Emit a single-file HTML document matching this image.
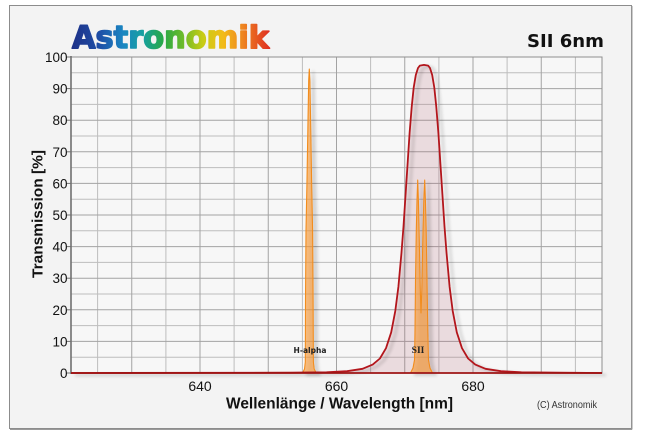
<!DOCTYPE html>
<html><head><meta charset="utf-8"><style>
html,body{margin:0;padding:0;background:#fff;}
svg{display:block;}
</style></head><body>
<svg width="646" height="437" viewBox="0 0 646 437" xmlns="http://www.w3.org/2000/svg">
<defs>
<linearGradient id="logo" x1="71" y1="0" x2="271" y2="0" gradientUnits="userSpaceOnUse">
<stop offset="0" stop-color="#1d2f86"/>
<stop offset="0.14" stop-color="#1e4ea6"/>
<stop offset="0.26" stop-color="#1a86c2"/>
<stop offset="0.36" stop-color="#16a0a0"/>
<stop offset="0.46" stop-color="#27a846"/>
<stop offset="0.56" stop-color="#6cbb2a"/>
<stop offset="0.66" stop-color="#c8cc16"/>
<stop offset="0.76" stop-color="#f2bc18"/>
<stop offset="0.86" stop-color="#ee8420"/>
<stop offset="1" stop-color="#de2a22"/>
</linearGradient>
<filter id="sh" x="-20%" y="-20%" width="140%" height="140%">
<feGaussianBlur in="SourceAlpha" stdDeviation="1.6"/>
<feOffset dx="4" dy="2" result="o"/>
<feComponentTransfer><feFuncA type="linear" slope="0.22"/></feComponentTransfer>
<feMerge><feMergeNode/><feMergeNode in="SourceGraphic"/></feMerge>
</filter>
</defs>

<!-- frame -->
<rect x="9.5" y="5.5" width="622" height="423" fill="#f3f3f3" stroke="#8c8c8c" stroke-width="1"/>
<line x1="632" y1="6" x2="632" y2="429.5" stroke="#9a9a9a" stroke-width="1"/>
<line x1="10" y1="429.5" x2="632" y2="429.5" stroke="#9a9a9a" stroke-width="1"/>

<!-- logo -->
<text x="72" y="48" font-family="'DejaVu Sans','Liberation Sans',sans-serif" font-weight="bold" font-size="31" textLength="197" lengthAdjust="spacingAndGlyphs" fill="url(#logo)" stroke="url(#logo)" stroke-width="1.6" stroke-linejoin="round">Astronomik</text>

<!-- title -->
<text x="527" y="47" font-family="'DejaVu Sans','Liberation Sans',sans-serif" font-weight="bold" font-size="18" textLength="77" lengthAdjust="spacingAndGlyphs" fill="#111">SII 6nm</text>

<!-- plot bg -->
<rect x="71" y="57" width="531" height="316" fill="#f7f7f7"/>

<!-- minor grid -->
<g stroke="#bdbdbd" stroke-width="1">
<line x1="71" x2="602" y1="357.2" y2="357.2"/>
<line x1="71" x2="602" y1="325.6" y2="325.6"/>
<line x1="71" x2="602" y1="294" y2="294"/>
<line x1="71" x2="602" y1="262.4" y2="262.4"/>
<line x1="71" x2="602" y1="230.8" y2="230.8"/>
<line x1="71" x2="602" y1="199.2" y2="199.2"/>
<line x1="71" x2="602" y1="167.6" y2="167.6"/>
<line x1="71" x2="602" y1="136" y2="136"/>
<line x1="71" x2="602" y1="104.4" y2="104.4"/>
<line x1="71" x2="602" y1="72.8" y2="72.8"/>
<line y1="57" y2="373" x1="97.6" x2="97.6"/>
<line y1="57" y2="373" x1="165.9" x2="165.9"/>
<line y1="57" y2="373" x1="234.1" x2="234.1"/>
<line y1="57" y2="373" x1="302.4" x2="302.4"/>
<line y1="57" y2="373" x1="370.6" x2="370.6"/>
<line y1="57" y2="373" x1="438.9" x2="438.9"/>
<line y1="57" y2="373" x1="507.1" x2="507.1"/>
<line y1="57" y2="373" x1="575.4" x2="575.4"/>
</g>
<!-- major grid -->
<g stroke="#a3a3a3" stroke-width="1">
<line x1="71" x2="602" y1="341.4" y2="341.4"/>
<line x1="71" x2="602" y1="309.8" y2="309.8"/>
<line x1="71" x2="602" y1="278.2" y2="278.2"/>
<line x1="71" x2="602" y1="246.6" y2="246.6"/>
<line x1="71" x2="602" y1="215" y2="215"/>
<line x1="71" x2="602" y1="183.4" y2="183.4"/>
<line x1="71" x2="602" y1="151.8" y2="151.8"/>
<line x1="71" x2="602" y1="120.2" y2="120.2"/>
<line x1="71" x2="602" y1="88.6" y2="88.6"/>
<line y1="57" y2="373" x1="131.75" x2="131.75"/>
<line y1="57" y2="373" x1="200" x2="200"/>
<line y1="57" y2="373" x1="268.25" x2="268.25"/>
<line y1="57" y2="373" x1="336.5" x2="336.5"/>
<line y1="57" y2="373" x1="404.75" x2="404.75"/>
<line y1="57" y2="373" x1="473" x2="473"/>
<line y1="57" y2="373" x1="541.25" x2="541.25"/>
</g>
<!-- plot border -->
<rect x="71" y="57" width="531" height="316" fill="none" stroke="#8f8f8f" stroke-width="1"/>
<line x1="71" y1="56" x2="71" y2="374" stroke="#707070" stroke-width="1.6"/>

<!-- y ticks -->
<g stroke="#707070" stroke-width="1">
<line x1="67" x2="71" y1="373" y2="373"/>
<line x1="67" x2="71" y1="341.4" y2="341.4"/>
<line x1="67" x2="71" y1="309.8" y2="309.8"/>
<line x1="67" x2="71" y1="278.2" y2="278.2"/>
<line x1="67" x2="71" y1="246.6" y2="246.6"/>
<line x1="67" x2="71" y1="215" y2="215"/>
<line x1="67" x2="71" y1="183.4" y2="183.4"/>
<line x1="67" x2="71" y1="151.8" y2="151.8"/>
<line x1="67" x2="71" y1="120.2" y2="120.2"/>
<line x1="67" x2="71" y1="88.6" y2="88.6"/>
<line x1="67" x2="71" y1="57" y2="57"/>
</g>

<!-- red filter curve: fill -->
<polygon fill="rgba(175,95,110,0.18)" points="71,373 291,372.7 326.6,372.3 347.1,371.2 362.5,368.8 372.7,364.6 379.9,358.5 386,348.2 391.2,332.3 395.3,310.9 398.4,286.7 401.4,253.6 403.5,226.4 405.5,195.7 407.6,163.7 409.6,133 411.7,106.9 413.7,87.5 415.8,75 418,68 419.9,65.6 424,64.9 428.1,65.6 430,68 432.2,75 434.3,87.5 436.3,106.9 438.4,133 440.4,163.7 442.5,195.7 444.5,226.4 446.6,253.6 449.6,286.7 452.7,310.9 456.8,332.3 462,348.2 468.1,358.5 475.3,364.6 485.5,368.8 500.9,371.2 521.4,372.3 557,372.7 602,373"/>

<!-- orange lines -->
<g filter="url(#sh)">
<polygon fill="rgba(246,150,50,0.62)" stroke="#f28c1e" stroke-width="1.1" stroke-linejoin="round" points="302.5,373 304.5,369 305.3,362 305.5,300 306,230 307,180 308,120 308.7,80 309.3,69 309.9,80 310.6,120 311.6,180 312.6,230 313.1,300 313.4,362 314.2,369 316.3,373"/>
<polygon fill="rgba(246,150,50,0.62)" stroke="#f28c1e" stroke-width="1.1" stroke-linejoin="round" points="410.5,373 413,368 414.5,360 415,330 415.5,280 416.3,230 417,200 417.7,180 418.4,200 419.3,240 420.3,290 421,313 421.8,290 422.8,240 423.8,200 424.7,180 425.4,200 426.2,230 427,280 427.8,330 428.5,360 430,368 432.5,373"/>
</g>

<!-- red curve stroke -->
<g filter="url(#sh)">
<polyline fill="none" stroke="#b3161c" stroke-width="1.8" stroke-linejoin="round" points="71,373 291,372.7 326.6,372.3 347.1,371.2 362.5,368.8 372.7,364.6 379.9,358.5 386,348.2 391.2,332.3 395.3,310.9 398.4,286.7 401.4,253.6 403.5,226.4 405.5,195.7 407.6,163.7 409.6,133 411.7,106.9 413.7,87.5 415.8,75 418,68 419.9,65.6 424,64.9 428.1,65.6 430,68 432.2,75 434.3,87.5 436.3,106.9 438.4,133 440.4,163.7 442.5,195.7 444.5,226.4 446.6,253.6 449.6,286.7 452.7,310.9 456.8,332.3 462,348.2 468.1,358.5 475.3,364.6 485.5,368.8 500.9,371.2 521.4,372.3 557,372.7 602,373"/>
</g>
<line x1="71" y1="373" x2="602" y2="373" stroke="#9e1414" stroke-width="1.8"/>

<!-- line labels -->
<text x="293.5" y="353" font-family="'DejaVu Sans','Liberation Sans',sans-serif" font-weight="bold" font-size="8" textLength="33" lengthAdjust="spacingAndGlyphs" fill="#222">H-alpha</text>
<text x="411.7" y="353" font-family="'Liberation Serif',serif" font-weight="bold" font-size="9.5" textLength="12.7" lengthAdjust="spacingAndGlyphs" fill="#222">SII</text>

<!-- y tick labels -->
<g font-family="'Liberation Sans',sans-serif" font-size="13.5" fill="#111" text-anchor="end">
<text x="67.5" y="378">0</text>
<text x="67.5" y="346.4">10</text>
<text x="67.5" y="314.8">20</text>
<text x="67.5" y="283.2">30</text>
<text x="67.5" y="251.6">40</text>
<text x="67.5" y="220">50</text>
<text x="67.5" y="188.4">60</text>
<text x="67.5" y="156.8">70</text>
<text x="67.5" y="125.2">80</text>
<text x="67.5" y="93.6">90</text>
<text x="67.5" y="62">100</text>
</g>

<!-- x tick labels -->
<g font-family="'Liberation Sans',sans-serif" font-size="14" fill="#111" text-anchor="middle">
<text x="200" y="391">640</text>
<text x="336.5" y="391">660</text>
<text x="473" y="391">680</text>
</g>

<!-- axis titles -->
<text x="226" y="408.5" font-family="'Liberation Sans',sans-serif" font-weight="bold" font-size="15.5" textLength="227" lengthAdjust="spacingAndGlyphs" fill="#111">Wellenlänge / Wavelength [nm]</text>
<text transform="translate(42.5,214) rotate(-90)" x="0" y="0" text-anchor="middle" font-family="'Liberation Sans',sans-serif" font-weight="bold" font-size="15" textLength="128" lengthAdjust="spacingAndGlyphs" fill="#111">Transmission [%]</text>

<!-- copyright -->
<text x="537" y="408" font-family="'Liberation Sans',sans-serif" font-size="10.5" textLength="60" lengthAdjust="spacingAndGlyphs" fill="#333">(C) Astronomik</text>
</svg>
</body></html>
